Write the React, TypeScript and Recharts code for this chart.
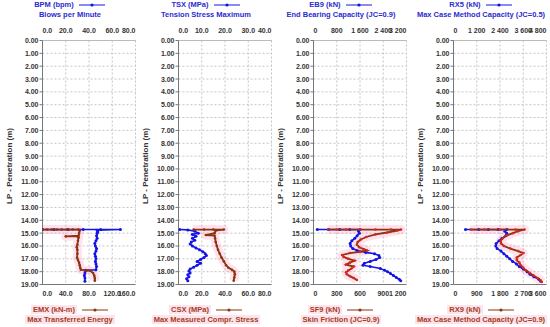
import { ScatterChart, Scatter, XAxis, YAxis, CartesianGrid } from 'recharts';

type Pt = [number, number]; // [penetration m, value]

const DEPTH_TICKS = [0, 1, 2, 3, 4, 5, 6, 7, 8, 9, 10, 11, 12, 13, 14, 15, 16, 17, 18, 19];

const BPM_TICKS = [0, 20, 40, 60, 80];
const EMX_TICKS = [0, 40, 80, 120, 160];
const TSX_TICKS = [0, 10, 20, 30, 40];
const CSX_TICKS = [0, 20, 40, 60, 80];
const EB9_TICKS = [0, 800, 1600, 2400, 3200];
const SF9_TICKS = [0, 300, 600, 900, 1200];
const RX5_TICKS = [0, 1200, 2400, 3600, 4800];
const RX9_TICKS = [0, 900, 1800, 2700, 3600];

const BPM: Pt[] = [
  [14.72, 0], [14.72, 10], [14.72, 22], [14.72, 35], [14.72, 50], [14.72, 67], [14.78, 47],
  [14.9, 47.5], [15.0, 47], [15.2, 46.5], [15.4, 47], [15.6, 46], [15.8, 45], [16.0, 45.5],
  [16.2, 46.5], [16.4, 46], [16.6, 45], [16.8, 45.5], [17.0, 46], [17.2, 45.5], [17.4, 46],
  [17.6, 46.5], [17.85, 46], [17.9, 37], [18.1, 36.5], [18.3, 36], [18.5, 36.5], [18.75, 36.5],
];
const EMX: Pt[] = [
  [14.72, 0], [14.72, 8], [14.72, 16], [14.72, 25], [14.72, 33], [14.72, 42], [14.72, 52],
  [14.72, 62], [14.8, 64], [15.0, 63], [15.2, 62], [15.25, 40], [15.25, 60], [15.35, 62],
  [15.6, 61], [15.9, 60], [16.1, 59], [16.3, 60], [16.6, 60], [16.9, 59.5], [17.1, 61],
  [17.3, 63], [17.5, 64], [17.7, 65], [17.85, 66], [17.9, 76], [17.95, 83], [18.1, 87],
  [18.3, 89], [18.5, 90], [18.7, 90],
];
const TSX: Pt[] = [
  [14.72, 0.5], [14.75, 4], [14.85, 7], [15.0, 8.5], [15.1, 6], [15.25, 7.5], [15.4, 6],
  [15.55, 7], [15.7, 5.5], [15.85, 5], [16.0, 6], [16.15, 7.5], [16.3, 9], [16.45, 10.5],
  [16.6, 11.5], [16.75, 12], [16.9, 11], [17.05, 9.5], [17.2, 8], [17.35, 9.5], [17.5, 8],
  [17.65, 6.5], [17.8, 5], [17.95, 4.5], [18.1, 5], [18.25, 4], [18.4, 4.5], [18.55, 3.5],
  [18.7, 4],
];
const CSX: Pt[] = [
  [14.72, 13], [14.72, 22], [14.72, 30], [14.72, 39], [14.8, 32], [15.0, 31], [15.15, 23.5],
  [15.2, 31], [15.4, 31.5], [15.7, 32], [16.0, 33], [16.3, 34], [16.6, 35.5], [16.9, 37],
  [17.2, 39], [17.5, 41], [17.7, 43], [17.85, 46], [18.0, 48], [18.2, 48.5], [18.45, 48],
  [18.7, 47.5],
];
const EB9: Pt[] = [
  [14.72, 130], [14.72, 520], [14.72, 900], [14.72, 1250], [14.72, 1600], [14.85, 1550],
  [15.0, 1580], [15.2, 1500], [15.4, 1420], [15.6, 1320], [15.8, 1260], [16.0, 1280],
  [16.2, 1350], [16.35, 1500], [16.5, 1800], [16.6, 2100], [16.75, 2250], [16.9, 2280],
  [17.05, 2150], [17.2, 1950], [17.35, 1750], [17.5, 1700], [17.6, 1950], [17.75, 2300],
  [17.9, 2450], [18.0, 2550], [18.15, 2650], [18.3, 2750], [18.45, 2850], [18.6, 2950],
  [18.7, 3000],
];
const SF9: Pt[] = [
  [14.72, 190], [14.72, 300], [14.72, 420], [14.72, 600], [14.72, 800], [14.72, 1000],
  [14.72, 1130], [14.8, 1080], [14.95, 950], [15.1, 800], [15.3, 680], [15.5, 610],
  [15.7, 570], [15.9, 560], [16.1, 590], [16.25, 650], [16.35, 690], [16.45, 600],
  [16.55, 470], [16.7, 370], [16.85, 390], [17.0, 450], [17.15, 530], [17.3, 470],
  [17.45, 420], [17.6, 520], [17.75, 490], [17.9, 450], [18.05, 420], [18.2, 430],
  [18.35, 470], [18.5, 520], [18.65, 560],
];
const RX5: Pt[] = [
  [14.72, 620], [14.72, 1300], [14.72, 1800], [14.72, 2300], [14.72, 2750], [14.85, 2650],
  [15.0, 2750], [15.2, 2700], [15.4, 2500], [15.6, 2350], [15.8, 2200], [16.0, 2180],
  [16.2, 2250], [16.4, 2450], [16.6, 2600], [16.8, 2750], [17.0, 2900], [17.2, 3050],
  [17.4, 3250], [17.6, 3400], [17.8, 3600], [18.0, 3800], [18.2, 3950], [18.4, 4150],
  [18.6, 4400], [18.75, 4500],
];
const RX9: Pt[] = [
  [14.72, 660], [14.72, 1200], [14.72, 1800], [14.72, 2400], [14.72, 2750], [14.85, 2500],
  [15.0, 2300], [15.2, 2050], [15.4, 1900], [15.6, 1830], [15.8, 1840], [16.0, 1950],
  [16.2, 2200], [16.4, 2500], [16.55, 2700], [16.7, 2600], [16.9, 2450], [17.1, 2450],
  [17.3, 2550], [17.5, 2600], [17.7, 2700], [17.9, 2800], [18.1, 2950], [18.3, 3100],
  [18.5, 3250], [18.7, 3380], [18.8, 3420],
];

const FONT = '"Liberation Sans", Arial, sans-serif';
const BLUE = '#1414e6';
const BROWN = '#8a3510';
const TOP_TEXT = '#2b2bcf';
const BOTTOM_TEXT = '#a53c1c';

const oneDecimal = (v: number) => v.toFixed(1);
const grouped = (v: number) => {
  const s = String(Math.round(v));
  return s.length > 3 ? `${s.slice(0, -3)} ${s.slice(-3)}` : s;
};

interface Series {
  name: string;
  desc: string;
  data: Pt[];
  ticks: number[];
  fmt: (v: number) => string;
}

interface PanelProps {
  plotLeft: number;
  top: Series;
  bottom: Series;
  bottomDot: string;
}

const PANEL_W = 137;
const PLOT_OFFSET = 40.5;

function XTick(props: any) {
  const { x, y, payload, index, fmt, side, count } = props;
  const anchor = index === 0 ? 'start' : index === count - 1 ? 'end' : 'middle';
  return (
    <text
      x={x}
      y={side === 'top' ? y : y + 7}
      textAnchor={anchor}
      fontSize={7}
      fontWeight="bold"
      fontFamily={FONT}
      fill="#333"
    >
      {fmt(payload.value)}
    </text>
  );
}

function Marker({ color }: { color: string }) {
  return (
    <svg width={28} height={8} style={{ marginLeft: 4, verticalAlign: 'middle' }}>
      <line x1={1} y1={4} x2={27} y2={4} stroke={color} strokeWidth={1} />
      <circle cx={14} cy={4} r={1.6} fill={color} />
    </svg>
  );
}

function Panel({ plotLeft, top, bottom, bottomDot }: PanelProps) {
  const left = plotLeft - PLOT_OFFSET;
  const toRows = (pts: Pt[]) => pts.map(([d, v]) => ({ d, v }));
  const dot = (color: string, r: number) => (p: any) => (
    <circle cx={p.cx} cy={p.cy} r={r} fill={color} />
  );
  const textBase: React.CSSProperties = {
    position: 'absolute',
    left: 0,
    width: PANEL_W,
    textAlign: 'center',
    fontFamily: FONT,
    fontWeight: 'bold',
    fontSize: 7.5,
    lineHeight: '10px',
    whiteSpace: 'nowrap',
  };
  return (
    <div style={{ position: 'absolute', left, top: 0, width: PANEL_W, height: 327 }}>
      <div style={{ ...textBase, top: 0, color: TOP_TEXT }}>
        {top.name}
        <Marker color={BLUE} />
      </div>
      <div style={{ ...textBase, top: 10, color: TOP_TEXT }}>{top.desc}</div>
      <div style={{ ...textBase, top: 305, color: BOTTOM_TEXT }}>
        <span style={{ background: '#fde3ec', padding: '0 2px' }}>{bottom.name}</span>
        <Marker color={BROWN} />
      </div>
      <div style={{ ...textBase, top: 315, color: BOTTOM_TEXT }}>
        <span style={{ background: '#fde3ec', padding: '0 2px' }}>{bottom.desc}</span>
      </div>
      <div
        style={{
          position: 'absolute',
          left: PLOT_OFFSET - 33,
          top: 166,
          transform: 'translate(-50%, -50%) rotate(-90deg)',
          fontFamily: FONT,
          fontWeight: 'bold',
          fontSize: 8,
          color: '#333',
          whiteSpace: 'nowrap',
        }}
      >
        LP - Penetration (m)
      </div>
      <div style={{ position: 'absolute', left: 0, top: 0 }}>
        <ScatterChart
          width={PANEL_W}
          height={327}
          margin={{ top: 26.5, right: PANEL_W - PLOT_OFFSET - 93, bottom: 28.5, left: 2 }}
        >
          <CartesianGrid xAxisId="top" stroke="#c4c4c4" strokeDasharray="2 2" />
          <XAxis
            xAxisId="top"
            orientation="top"
            type="number"
            dataKey="v"
            domain={[top.ticks[0], top.ticks[top.ticks.length - 1]]}
            ticks={top.ticks}
            interval={0}
            height={14}
            tickSize={0}
            tickMargin={8}
            axisLine={{ stroke: '#bbb' }}
            tick={<XTick fmt={top.fmt} side="top" count={top.ticks.length} />}
            allowDataOverflow
          />
          <XAxis
            xAxisId="bottom"
            orientation="bottom"
            type="number"
            dataKey="v"
            domain={[bottom.ticks[0], bottom.ticks[bottom.ticks.length - 1]]}
            ticks={bottom.ticks}
            interval={0}
            height={14}
            tickSize={0}
            tickMargin={4}
            axisLine={{ stroke: '#777' }}
            tick={<XTick fmt={bottom.fmt} side="bottom" count={bottom.ticks.length} />}
            allowDataOverflow
          />
          <YAxis
            type="number"
            dataKey="d"
            domain={[0, 19]}
            reversed
            ticks={DEPTH_TICKS}
            interval={0}
            width={38.5}
            tickSize={3}
            tickMargin={1}
            axisLine={{ stroke: '#777' }}
            tickLine={{ stroke: '#777' }}
            tick={{ fontSize: 7, fontWeight: 'bold', fontFamily: FONT, fill: '#333' }}
            tickFormatter={(v: number) => v.toFixed(2)}
          />
          <Scatter
            xAxisId="bottom"
            data={toRows(bottom.data)}
            line={{ stroke: '#ff5fa0', strokeWidth: 9, strokeOpacity: 0.18, strokeLinejoin: 'round' }}
            lineJointType="linear"
            shape={() => <g />}
            isAnimationActive={false}
          />
          <Scatter
            xAxisId="top"
            data={toRows(top.data)}
            line={{ stroke: BLUE, strokeWidth: 1.6 }}
            lineJointType="linear"
            shape={dot(BLUE, 1.5)}
            isAnimationActive={false}
          />
          <Scatter
            xAxisId="bottom"
            data={toRows(bottom.data)}
            line={{ stroke: BROWN, strokeWidth: 1.8 }}
            lineJointType="linear"
            shape={dot(bottomDot, 1.3)}
            isAnimationActive={false}
          />
        </ScatterChart>
      </div>
    </div>
  );
}

export default function App() {
  return (
    <div style={{ position: 'absolute', left: 0, top: 0, width: 550, height: 327, background: '#fff' }}>
      <Panel
        plotLeft={42}
        top={{ name: 'BPM (bpm)', desc: 'Blows per Minute', data: BPM, ticks: BPM_TICKS, fmt: oneDecimal }}
        bottom={{ name: 'EMX (kN-m)', desc: 'Max Transferred Energy', data: EMX, ticks: EMX_TICKS, fmt: oneDecimal }}
        bottomDot={BROWN}
      />
      <Panel
        plotLeft={178}
        top={{ name: 'TSX (MPa)', desc: 'Tension Stress Maximum', data: TSX, ticks: TSX_TICKS, fmt: oneDecimal }}
        bottom={{ name: 'CSX (MPa)', desc: 'Max Measured Compr. Stress', data: CSX, ticks: CSX_TICKS, fmt: oneDecimal }}
        bottomDot={BROWN}
      />
      <Panel
        plotLeft={313}
        top={{ name: 'EB9 (kN)', desc: 'End Bearing Capacity (JC=0.9)', data: EB9, ticks: EB9_TICKS, fmt: grouped }}
        bottom={{ name: 'SF9 (kN)', desc: 'Skin Friction (JC=0.9)', data: SF9, ticks: SF9_TICKS, fmt: grouped }}
        bottomDot="#d8281a"
      />
      <Panel
        plotLeft={453}
        top={{ name: 'RX5 (kN)', desc: 'Max Case Method Capacity (JC=0.5)', data: RX5, ticks: RX5_TICKS, fmt: grouped }}
        bottom={{ name: 'RX9 (kN)', desc: 'Max Case Method Capacity (JC=0.9)', data: RX9, ticks: RX9_TICKS, fmt: grouped }}
        bottomDot="#d8281a"
      />
    </div>
  );
}
